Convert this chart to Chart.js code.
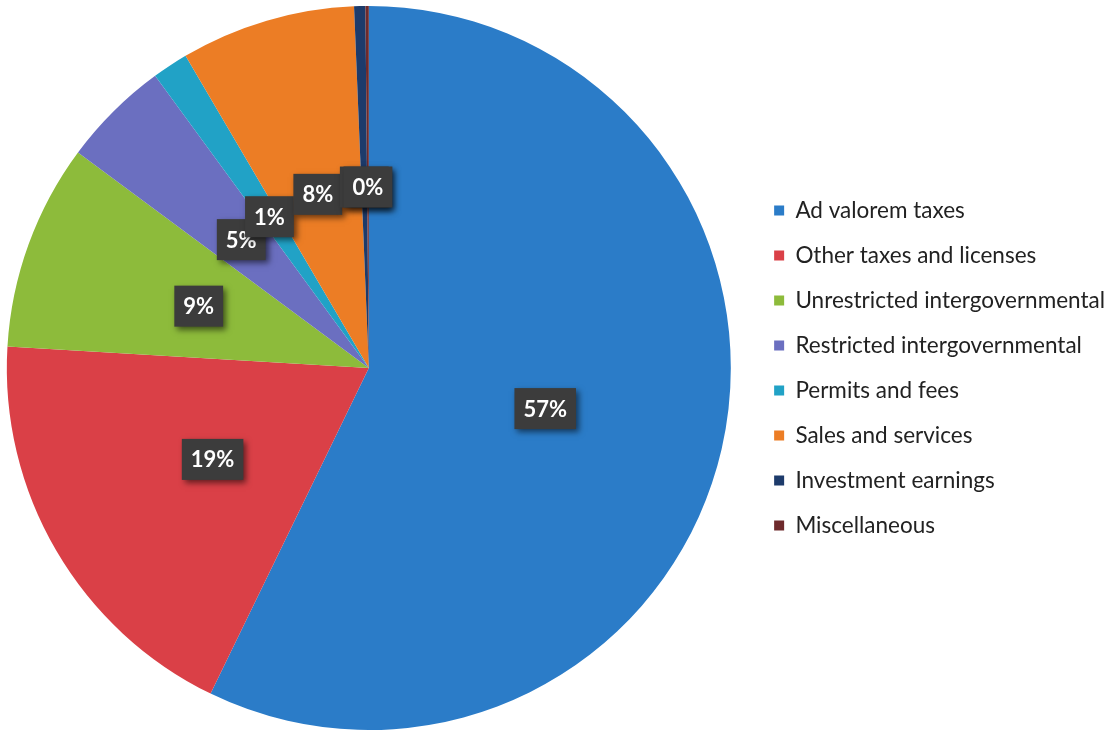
<!DOCTYPE html>
<html>
<head>
<meta charset="utf-8">
<script src="https://cdn.jsdelivr.net/npm/chart.js@4"></script>
<style>
  html, body { margin: 0; padding: 0; background: #fff; overflow: hidden; }
  #wrap { width: 1129px; height: 732px; position: relative; left: -14px; }
</style>
</head>
<body>
<div id="wrap"><canvas id="revenueChart"></canvas></div>
<script>
// Revenue sources (share of total)
const categories = ['Ad valorem taxes', 'Other taxes and licenses', 'Unrestricted intergovernmental',
    'Restricted intergovernmental', 'Permits and fees', 'Sales and services', 'Investment earnings', 'Miscellaneous'];
const shares = [57.2, 18.75, 9.2, 4.8, 1.6, 7.8, 0.5, 0.15];
const pctLabels = ['57%', '19%', '9%', '5%', '1%', '8%', '0%', '0%'];
const sliceColors = ['#2b7cc8', '#da4047', '#8dbb3b', '#6b6fc0', '#21a2c6', '#ec7d25', '#1d3b6b', '#6e2a2c'];

// draws the dark percentage boxes half way out along each slice
const boxLabels = {
    id: 'boxLabels',
    afterDatasetsDraw(chart) {
        const ctx = chart.ctx;
        const arcs = chart.getDatasetMeta(0).data;
        ctx.save();
        ctx.font = 'bold 22px Lato';
        ctx.textAlign = 'center';
        ctx.textBaseline = 'middle';
        arcs.forEach((arc, i) => {
            const p = arc.getProps(['x', 'y', 'startAngle', 'endAngle', 'outerRadius']);
            const mid = (p.startAngle + p.endAngle) / 2;
            const r = p.outerRadius * 0.5;
            const cx = p.x + Math.cos(mid) * r;
            const cy = p.y + Math.sin(mid) * r;
            const txt = pctLabels[i];
            const w = ctx.measureText(txt).width + 18;
            const h = 41;
            ctx.shadowColor = 'rgba(0,0,0,0.55)';
            ctx.shadowBlur = 6;
            ctx.shadowOffsetX = 3;
            ctx.shadowOffsetY = 3;
            ctx.fillStyle = '#3c3c3c';
            ctx.fillRect(cx - w / 2, cy - h / 2, w, h);
            ctx.shadowColor = 'transparent';
            ctx.fillStyle = '#ffffff';
            ctx.fillText(txt, cx, cy + 1);
        });
        ctx.restore();
    }
};

new Chart(document.getElementById('revenueChart'), {
    type: 'pie',
    data: {
        labels: categories,
        datasets: [{
            data: shares,
            backgroundColor: sliceColors,
            borderWidth: 0
        }]
    },
    options: {
        responsive: true,
        maintainAspectRatio: false,
        animation: false,
        layout: { padding: { left: 0, top: 6, bottom: 2, right: 0 } },
        plugins: {
            tooltip: { enabled: false },
            legend: {
                position: 'right',
                labels: {
                    boxWidth: 10,
                    boxHeight: 10,
                    padding: 22.5,
                    color: '#222222',
                    font: { family: 'Lato', size: 22.5 }
                }
            }
        }
    },
    plugins: [boxLabels]
});
</script>
</body>
</html>
